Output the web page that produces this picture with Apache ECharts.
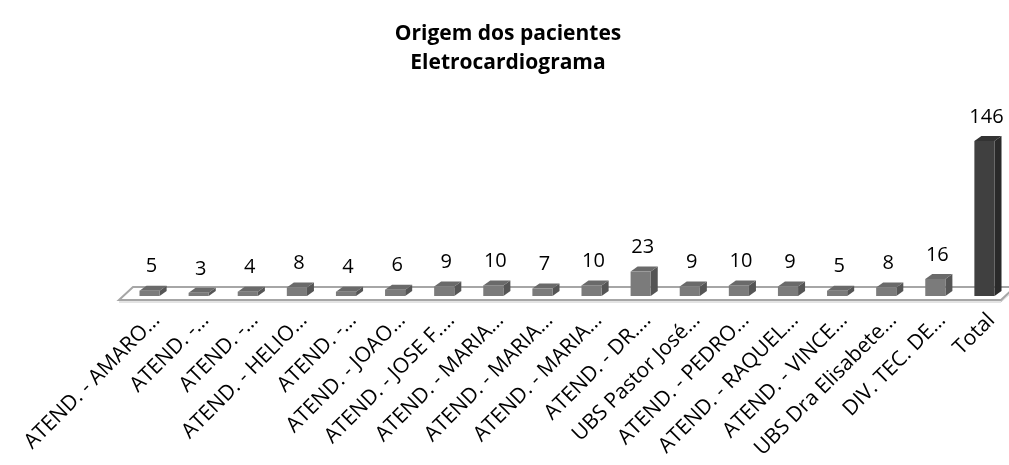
<!DOCTYPE html>
<html>
<head>
<meta charset="utf-8">
<script src="https://cdn.jsdelivr.net/npm/echarts@6/dist/echarts.min.js"></script>
<style>
    html, body { margin: 0; padding: 0; background: #fff; overflow: hidden; }
    #chart { width: 1016px; height: 465px; }
</style>
</head>
<body>
<div id="chart"></div>
<script>
const categories = [
    'ATEND. - AMARO…', 'ATEND. -…', 'ATEND. -…', 'ATEND. - HELIO…', 'ATEND. -…',
    'ATEND. - JOAO…', 'ATEND. - JOSE F.…', 'ATEND. - MARIA…', 'ATEND. - MARIA…', 'ATEND. - MARIA…',
    'ATEND. - DR.…', 'UBS Pastor José…', 'ATEND. - PEDRO…', 'ATEND. - RAQUEL…', 'ATEND. - VINCE…',
    'UBS Dra Elisabete…', 'DIV. TEC. DE…', 'Total'
];
const values = [5, 3, 4, 8, 4, 6, 9, 10, 7, 10, 23, 9, 10, 9, 5, 8, 16, 146];
const titleLines = ['Origem dos pacientes', 'Eletrocardiograma'];

const FONT = "'Open Sans', 'Noto Sans', sans-serif";
// depth of the fake 3D look, and how far the bars sit left of the tick
const DX = 7, DY = -5, SHIFT = -7;

// container is a bit wider than the window: the floor runs off the right edge
const chart = echarts.init(document.getElementById('chart'));

// bar colours: front / side / top
const normal = ['#7b7b7b', '#555555', '#6a6a6a'];
const total = ['#404040', '#2a2a2a', '#333333'];

function renderBar(params, api) {
    const i = api.value(0);
    const v = api.value(1);
    const top = api.coord([i, v]);
    const base = api.coord([i, 0]);
    const w = api.size([1, 0])[0] * 0.41;
    const xc = top[0] + SHIFT;
    const x0 = xc - w / 2, x1 = xc + w / 2;
    const yt = top[1], yb = base[1];
    const c = i === categories.length - 1 ? total : normal;
    return {
        type: 'group',
        children: [
            { type: 'polygon', shape: { points: [[x1, yt], [x1 + DX, yt + DY], [x1 + DX, yb + DY], [x1, yb]] },
              style: { fill: c[1] } },
            { type: 'polygon', shape: { points: [[x0, yt], [x1, yt], [x1 + DX, yt + DY], [x0 + DX, yt + DY]] },
              style: { fill: c[2] } },
            { type: 'rect', shape: { x: x0, y: yt, width: w, height: yb - yt },
              style: { fill: c[0] } },
            { type: 'text', x: xc + 2, y: yt - 24,
              style: { text: String(v), fill: '#000', font: '20px ' + FONT, align: 'center', verticalAlign: 'middle' } }
        ]
    };
}

function renderFloor(params, api) {
    const cs = params.coordSys;
    const yb = cs.y + cs.height;
    const left = cs.x + SHIFT - 6, right = cs.x + cs.width + SHIFT - 8;
    const front = yb + 4, back = yb - 9;
    return {
        type: 'group',
        silent: true,
        children: [
            { type: 'polygon', shape: { points: [[left, front], [left + 14, back], [right + 14, back], [right, front]] },
              style: { fill: '#fff', stroke: '#a6a6a6', lineWidth: 2 } },
            { type: 'polyline', shape: { points: [[left, front + 2], [right, front + 2], [right + 14, back + 2]] },
              style: { fill: null, stroke: '#c8c8c8', lineWidth: 1 } }
        ]
    };
}

chart.setOption({
    animation: false,
    title: {
        text: titleLines.join('\n'),
        left: 'center',
        top: 15,
        textStyle: { fontFamily: FONT, fontSize: 21, fontWeight: 'bold', color: '#000', lineHeight: 29 }
    },
    grid: { left: 132, right: 0, top: 126, bottom: 169 },
    xAxis: {
        type: 'category',
        data: categories,
        axisLine: { show: false },
        axisTick: { show: false },
        axisLabel: { rotate: 45, interval: 0, margin: 21, fontFamily: FONT, fontSize: 21, color: '#000' }
    },
    yAxis: {
        type: 'value',
        min: 0,
        max: 160,
        show: false,
        splitLine: { show: false }
    },
    series: [
        { type: 'custom', renderItem: renderFloor, data: [[0]], z: 1, silent: true },
        { type: 'custom', renderItem: renderBar, data: values.map((v, i) => [i, v]), z: 2 }
    ]
});
</script>
</body>
</html>
